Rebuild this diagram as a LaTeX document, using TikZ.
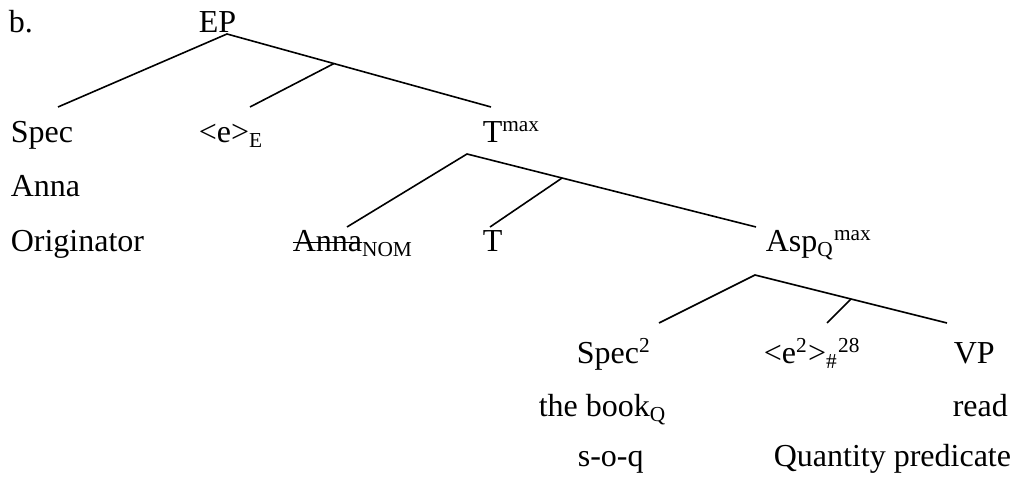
\documentclass[tikz,border=0pt]{standalone}
\usepackage{fontspec}
\setmainfont{Liberation Serif}
\usetikzlibrary{calc}
\newcommand{\strk}[1]{\setbox0\hbox{#1}\rlap{\rule[0.27em]{\wd0}{0.6pt}}\box0}

\begin{document}
\begin{tikzpicture}[x=0.375pt,y=-0.375pt,line width=0.6pt]
       \tikzstyle{word} = [anchor=base west, inner sep=0pt, font=\fontsize{12pt}{14pt}\selectfont];
       \useasboundingbox (0,0) rectangle (1023,482);
       \node[word](b) at (8,33) {b.};
       \node[word](ep) at (198,33) {EP};
       % EP daughters
       \node[word](spec) at (10,143) {Spec};
       \node[word](anna) at (10,197) {Anna};
       \node[word](orig) at (10,252) {Originator};
       \node[word](e) at (198,143) {<e>\textsubscript{E}};
       \node[word](tmax) at (482,143) {T\textsuperscript{max}};
       % T daughters
       \node[word](annanom) at (292,252) {\strk{Anna}\textsubscript{NOM}};
       \node[word](t) at (482,252) {T};
       \node[word](aspmax) at (765,252) {Asp\textsubscript{Q}\textsuperscript{max}};
       % Asp daughters
       \node[word](spectwo) at (576,364) {Spec\textsuperscript{2}};
       \node[word](book) at (538,417) {the book\textsubscript{Q}};
       \node[word](soq) at (577,467) {s-o-q};
       \node[word](etwo) at (763,364) {<e\textsuperscript{2}>\textsubscript{\#}\textsuperscript{28}};
       \node[word](vp) at (953,364) {VP};
       \node[word](read) at (952,417) {read};
       \node[word](quant) at (773,467) {Quantity predicate};

       \coordinate (ep-root) at ($(ep.base west)+(29,1)$);
       \coordinate (tmax-top) at ($(tmax.base west)+(9,-36)$);
       \coordinate (tmax-root) at ($(tmax.base west)+(-15,11)$);
       \coordinate (asp-top) at ($(aspmax.base west)+(-9,-25)$);
       \coordinate (asp-root) at ($(aspmax.base west)+(-10,23)$);
       \coordinate (vp-top) at ($(vp.base west)+(-6,-41)$);

       \draw[-] ($(spec.base west)+(48,-36)$) -- (ep-root) -- (tmax-top);
       \draw[-] ($(ep-root)!0.405!(tmax-top)$) -- ($(e.base west)+(52,-36)$);

       \draw[-] ($(annanom.base west)+(55,-25)$) -- (tmax-root) -- (asp-top);
       \draw[-] ($(tmax-root)!0.329!(asp-top)$) -- ($(t.base west)+(8,-25)$);

       \draw[-] ($(spectwo.base west)+(83,-41)$) -- (asp-root) -- (vp-top);
       \draw[-] ($(asp-root)!0.5!(vp-top)$) -- ($(etwo.base west)+(64,-41)$);
     \end{tikzpicture}
\end{document}
